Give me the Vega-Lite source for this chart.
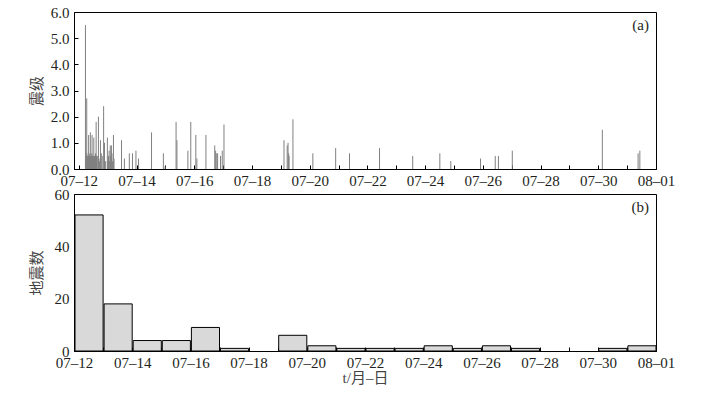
{
  "$schema": "https://vega.github.io/schema/vega-lite/v6.json",
  "padding": {"left": 28, "top": 4, "right": 0, "bottom": 0},
  "background": "white",
  "datasets": {
    "quakes": [
    {"t": "2020-07-12T05:31", "mag": 5.5},
    {"t": "2020-07-12T06:36", "mag": 2.7},
    {"t": "2020-07-12T08:10", "mag": 1.3},
    {"t": "2020-07-12T09:36", "mag": 1.4},
    {"t": "2020-07-12T11:02", "mag": 1.3},
    {"t": "2020-07-12T12:29", "mag": 1.2},
    {"t": "2020-07-12T14:24", "mag": 1.8},
    {"t": "2020-07-12T16:19", "mag": 2.0},
    {"t": "2020-07-12T18:00", "mag": 1.1},
    {"t": "2020-07-12T20:38", "mag": 2.4},
    {"t": "2020-07-12T21:22", "mag": 1.0},
    {"t": "2020-07-12T23:46", "mag": 1.2},
    {"t": "2020-07-12T05:46", "mag": 0.5},
    {"t": "2020-07-12T06:00", "mag": 0.4},
    {"t": "2020-07-12T06:14", "mag": 0.5},
    {"t": "2020-07-12T06:43", "mag": 0.6},
    {"t": "2020-07-12T06:58", "mag": 0.5},
    {"t": "2020-07-12T07:12", "mag": 0.3},
    {"t": "2020-07-12T07:26", "mag": 0.5},
    {"t": "2020-07-12T07:41", "mag": 0.5},
    {"t": "2020-07-12T07:55", "mag": 0.4},
    {"t": "2020-07-12T08:24", "mag": 0.5},
    {"t": "2020-07-12T08:38", "mag": 0.6},
    {"t": "2020-07-12T08:53", "mag": 0.5},
    {"t": "2020-07-12T09:07", "mag": 0.5},
    {"t": "2020-07-12T09:22", "mag": 0.4},
    {"t": "2020-07-12T09:50", "mag": 0.5},
    {"t": "2020-07-12T10:05", "mag": 0.5},
    {"t": "2020-07-12T10:19", "mag": 0.3},
    {"t": "2020-07-12T10:34", "mag": 0.5},
    {"t": "2020-07-12T10:48", "mag": 0.6},
    {"t": "2020-07-12T11:17", "mag": 0.5},
    {"t": "2020-07-12T11:31", "mag": 0.5},
    {"t": "2020-07-12T11:46", "mag": 0.4},
    {"t": "2020-07-12T12:00", "mag": 0.5},
    {"t": "2020-07-12T12:14", "mag": 0.5},
    {"t": "2020-07-12T12:43", "mag": 0.5},
    {"t": "2020-07-12T12:58", "mag": 0.3},
    {"t": "2020-07-12T13:12", "mag": 0.5},
    {"t": "2020-07-12T13:26", "mag": 0.4},
    {"t": "2020-07-12T13:41", "mag": 0.5},
    {"t": "2020-07-12T13:55", "mag": 0.6},
    {"t": "2020-07-12T14:10", "mag": 0.5},
    {"t": "2020-07-12T14:38", "mag": 0.5},
    {"t": "2020-07-12T14:53", "mag": 0.4},
    {"t": "2020-07-12T15:07", "mag": 0.5},
    {"t": "2020-07-12T15:50", "mag": 0.5},
    {"t": "2020-07-12T16:48", "mag": 0.4},
    {"t": "2020-07-12T17:17", "mag": 0.3},
    {"t": "2020-07-12T18:43", "mag": 0.6},
    {"t": "2020-07-12T19:26", "mag": 0.5},
    {"t": "2020-07-12T22:19", "mag": 0.3},
    {"t": "2020-07-13T00:05", "mag": 0.3},
    {"t": "2020-07-13T00:29", "mag": 0.4},
    {"t": "2020-07-13T00:43", "mag": 0.5},
    {"t": "2020-07-13T01:12", "mag": 0.7},
    {"t": "2020-07-13T01:41", "mag": 0.3},
    {"t": "2020-07-13T02:10", "mag": 0.9},
    {"t": "2020-07-13T02:24", "mag": 0.5},
    {"t": "2020-07-13T02:38", "mag": 0.4},
    {"t": "2020-07-13T03:07", "mag": 0.9},
    {"t": "2020-07-13T03:36", "mag": 0.6},
    {"t": "2020-07-13T04:05", "mag": 0.3},
    {"t": "2020-07-13T04:48", "mag": 1.3},
    {"t": "2020-07-13T05:17", "mag": 0.4},
    {"t": "2020-07-13T11:31", "mag": 1.1},
    {"t": "2020-07-13T13:55", "mag": 0.4},
    {"t": "2020-07-13T18:00", "mag": 0.6},
    {"t": "2020-07-13T20:38", "mag": 0.6},
    {"t": "2020-07-13T23:31", "mag": 0.7},
    {"t": "2020-07-14T01:41", "mag": 0.4},
    {"t": "2020-07-14T12:29", "mag": 1.4},
    {"t": "2020-07-14T22:19", "mag": 0.6},
    {"t": "2020-07-14T23:46", "mag": 0.1},
    {"t": "2020-07-15T08:53", "mag": 1.8},
    {"t": "2020-07-15T09:36", "mag": 1.1},
    {"t": "2020-07-15T18:43", "mag": 0.7},
    {"t": "2020-07-15T21:07", "mag": 1.8},
    {"t": "2020-07-16T01:19", "mag": 1.3},
    {"t": "2020-07-16T02:10", "mag": 0.4},
    {"t": "2020-07-16T09:43", "mag": 1.3},
    {"t": "2020-07-16T17:02", "mag": 0.9},
    {"t": "2020-07-16T17:46", "mag": 0.7},
    {"t": "2020-07-16T18:43", "mag": 0.6},
    {"t": "2020-07-16T19:26", "mag": 0.6},
    {"t": "2020-07-16T21:50", "mag": 0.5},
    {"t": "2020-07-16T23:17", "mag": 0.7},
    {"t": "2020-07-17T00:43", "mag": 1.7},
    {"t": "2020-07-19T02:38", "mag": 1.1},
    {"t": "2020-07-19T05:17", "mag": 0.9},
    {"t": "2020-07-19T06:00", "mag": 1.0},
    {"t": "2020-07-19T06:29", "mag": 0.6},
    {"t": "2020-07-19T06:50", "mag": 0.5},
    {"t": "2020-07-19T10:05", "mag": 1.9},
    {"t": "2020-07-20T02:38", "mag": 0.6},
    {"t": "2020-07-20T21:36", "mag": 0.8},
    {"t": "2020-07-21T09:07", "mag": 0.6},
    {"t": "2020-07-22T10:05", "mag": 0.8},
    {"t": "2020-07-23T13:41", "mag": 0.5},
    {"t": "2020-07-24T12:14", "mag": 0.6},
    {"t": "2020-07-24T21:22", "mag": 0.3},
    {"t": "2020-07-25T22:05", "mag": 0.4},
    {"t": "2020-07-26T10:19", "mag": 0.5},
    {"t": "2020-07-26T12:58", "mag": 0.5},
    {"t": "2020-07-27T00:29", "mag": 0.7},
    {"t": "2020-07-30T03:22", "mag": 1.5},
    {"t": "2020-07-31T09:07", "mag": 0.6},
    {"t": "2020-07-31T10:34", "mag": 0.7}
    ],
    "labelA": [{"label": "(a)"}],
    "labelB": [{"label": "(b)"}]
  },
  "config": {
    "font": "Liberation Serif",
    "view": {"stroke": "black", "strokeWidth": 1},
    "axis": {
      "grid": false,
      "domainColor": "black",
      "tickColor": "black",
      "tickSize": -4,
      "labelColor": "#231f20",
      "labelFont": "Liberation Serif",
      "labelFontSize": 15,
      "labelOverlap": false,
      "titleFont": "Liberation Serif, Noto Sans CJK SC",
      "titleFontSize": 15,
      "titleFontWeight": "normal",
      "titleColor": "#444444"
    },
    "axisY": {"minExtent": 30, "maxExtent": 30, "labelPadding": 9, "titlePadding": 0},
    "axisX": {"labelPadding": 8, "labelFlush": false}
  },
  "spacing": -3,
  "vconcat": [
    {
      "width": 582,
      "height": 157,
      "layer": [
        {
          "data": {"name": "quakes"},
          "mark": {"type": "rule", "color": "#808080", "strokeWidth": 1},
          "encoding": {
            "x": {
              "field": "t",
              "type": "temporal",
              "scale": {"domain": [
                {"year": 2020, "month": 7, "date": 11, "hours": 20},
                {"year": 2020, "month": 8, "date": 1}
              ]},
              "axis": {
                "title": null,
                "values": [
                  {"year": 2020, "month": 7, "date": 12}, {"year": 2020, "month": 7, "date": 13},
                  {"year": 2020, "month": 7, "date": 14}, {"year": 2020, "month": 7, "date": 15},
                  {"year": 2020, "month": 7, "date": 16}, {"year": 2020, "month": 7, "date": 17},
                  {"year": 2020, "month": 7, "date": 18}, {"year": 2020, "month": 7, "date": 19},
                  {"year": 2020, "month": 7, "date": 20}, {"year": 2020, "month": 7, "date": 21},
                  {"year": 2020, "month": 7, "date": 22}, {"year": 2020, "month": 7, "date": 23},
                  {"year": 2020, "month": 7, "date": 24}, {"year": 2020, "month": 7, "date": 25},
                  {"year": 2020, "month": 7, "date": 26}, {"year": 2020, "month": 7, "date": 27},
                  {"year": 2020, "month": 7, "date": 28}, {"year": 2020, "month": 7, "date": 29},
                  {"year": 2020, "month": 7, "date": 30}, {"year": 2020, "month": 7, "date": 31},
                  {"year": 2020, "month": 8, "date": 1}
                ],
                "labelExpr": "round((datum.value - datetime(2020, 6, 12)) / 86400000) % 2 == 0 ? timeFormat(datum.value, '%m–%d') : ''"
              }
            },
            "y": {
              "field": "mag",
              "type": "quantitative",
              "scale": {"domain": [0, 6]},
              "axis": {"title": "震级", "values": [0, 1, 2, 3, 4, 5, 6], "format": ".1f", "labelOverlap": false}
            },
            "y2": {"datum": 0}
          }
        },
        {
          "data": {"name": "labelA"},
          "mark": {"type": "text", "align": "right", "baseline": "top", "dx": -7, "dy": 6, "font": "Liberation Serif", "fontSize": 15, "color": "#231f20"},
          "encoding": {
            "x": {
              "datum": {"year": 2020, "month": 8, "date": 1},
              "type": "temporal",
              "axis": {
                "title": null,
                "values": [
                  {"year": 2020, "month": 7, "date": 12}, {"year": 2020, "month": 7, "date": 13},
                  {"year": 2020, "month": 7, "date": 14}, {"year": 2020, "month": 7, "date": 15},
                  {"year": 2020, "month": 7, "date": 16}, {"year": 2020, "month": 7, "date": 17},
                  {"year": 2020, "month": 7, "date": 18}, {"year": 2020, "month": 7, "date": 19},
                  {"year": 2020, "month": 7, "date": 20}, {"year": 2020, "month": 7, "date": 21},
                  {"year": 2020, "month": 7, "date": 22}, {"year": 2020, "month": 7, "date": 23},
                  {"year": 2020, "month": 7, "date": 24}, {"year": 2020, "month": 7, "date": 25},
                  {"year": 2020, "month": 7, "date": 26}, {"year": 2020, "month": 7, "date": 27},
                  {"year": 2020, "month": 7, "date": 28}, {"year": 2020, "month": 7, "date": 29},
                  {"year": 2020, "month": 7, "date": 30}, {"year": 2020, "month": 7, "date": 31},
                  {"year": 2020, "month": 8, "date": 1}
                ],
                "labelExpr": "round((datum.value - datetime(2020, 6, 12)) / 86400000) % 2 == 0 ? timeFormat(datum.value, '%m–%d') : ''"
              }
            },
            "y": {
              "datum": 6,
              "type": "quantitative",
              "axis": {"title": "震级", "values": [0, 1, 2, 3, 4, 5, 6], "format": ".1f", "labelOverlap": false}
            },
            "text": {"field": "label", "type": "nominal"}
          }
        }
      ]
    },
    {
      "width": 582,
      "height": 157,
      "layer": [
        {
          "data": {"name": "quakes"},
          "mark": {"type": "bar", "fill": "#d9d9d9", "stroke": "black", "strokeWidth": 1},
          "encoding": {
            "x": {
              "field": "t",
              "timeUnit": "yearmonthdate",
              "type": "temporal",
              "scale": {"domain": [
                {"year": 2020, "month": 7, "date": 12},
                {"year": 2020, "month": 8, "date": 1}
              ]},
              "axis": {
                "title": "t/月–日",
                "titlePadding": 0,
                "values": [
                  {"year": 2020, "month": 7, "date": 12}, {"year": 2020, "month": 7, "date": 13},
                  {"year": 2020, "month": 7, "date": 14}, {"year": 2020, "month": 7, "date": 15},
                  {"year": 2020, "month": 7, "date": 16}, {"year": 2020, "month": 7, "date": 17},
                  {"year": 2020, "month": 7, "date": 18}, {"year": 2020, "month": 7, "date": 19},
                  {"year": 2020, "month": 7, "date": 20}, {"year": 2020, "month": 7, "date": 21},
                  {"year": 2020, "month": 7, "date": 22}, {"year": 2020, "month": 7, "date": 23},
                  {"year": 2020, "month": 7, "date": 24}, {"year": 2020, "month": 7, "date": 25},
                  {"year": 2020, "month": 7, "date": 26}, {"year": 2020, "month": 7, "date": 27},
                  {"year": 2020, "month": 7, "date": 28}, {"year": 2020, "month": 7, "date": 29},
                  {"year": 2020, "month": 7, "date": 30}, {"year": 2020, "month": 7, "date": 31},
                  {"year": 2020, "month": 8, "date": 1}
                ],
                "labelExpr": "round((datum.value - datetime(2020, 6, 12)) / 86400000) % 2 == 0 ? timeFormat(datum.value, '%m–%d') : ''"
              }
            },
            "y": {
              "aggregate": "count",
              "type": "quantitative",
              "scale": {"domain": [0, 60]},
              "axis": {"title": "地震数", "values": [0, 20, 40, 60], "labelOverlap": false}
            }
          }
        },
        {
          "data": {"name": "labelB"},
          "mark": {"type": "text", "align": "right", "baseline": "top", "dx": -7, "dy": 6, "font": "Liberation Serif", "fontSize": 15, "color": "#231f20"},
          "encoding": {
            "x": {
              "datum": {"year": 2020, "month": 8, "date": 1},
              "type": "temporal",
              "axis": {
                "title": "t/月–日",
                "titlePadding": 0,
                "values": [
                  {"year": 2020, "month": 7, "date": 12}, {"year": 2020, "month": 7, "date": 13},
                  {"year": 2020, "month": 7, "date": 14}, {"year": 2020, "month": 7, "date": 15},
                  {"year": 2020, "month": 7, "date": 16}, {"year": 2020, "month": 7, "date": 17},
                  {"year": 2020, "month": 7, "date": 18}, {"year": 2020, "month": 7, "date": 19},
                  {"year": 2020, "month": 7, "date": 20}, {"year": 2020, "month": 7, "date": 21},
                  {"year": 2020, "month": 7, "date": 22}, {"year": 2020, "month": 7, "date": 23},
                  {"year": 2020, "month": 7, "date": 24}, {"year": 2020, "month": 7, "date": 25},
                  {"year": 2020, "month": 7, "date": 26}, {"year": 2020, "month": 7, "date": 27},
                  {"year": 2020, "month": 7, "date": 28}, {"year": 2020, "month": 7, "date": 29},
                  {"year": 2020, "month": 7, "date": 30}, {"year": 2020, "month": 7, "date": 31},
                  {"year": 2020, "month": 8, "date": 1}
                ],
                "labelExpr": "round((datum.value - datetime(2020, 6, 12)) / 86400000) % 2 == 0 ? timeFormat(datum.value, '%m–%d') : ''"
              }
            },
            "y": {
              "datum": 60,
              "type": "quantitative",
              "axis": {"title": "地震数", "values": [0, 20, 40, 60], "labelOverlap": false}
            },
            "text": {"field": "label", "type": "nominal"}
          }
        }
      ]
    }
  ]
}
